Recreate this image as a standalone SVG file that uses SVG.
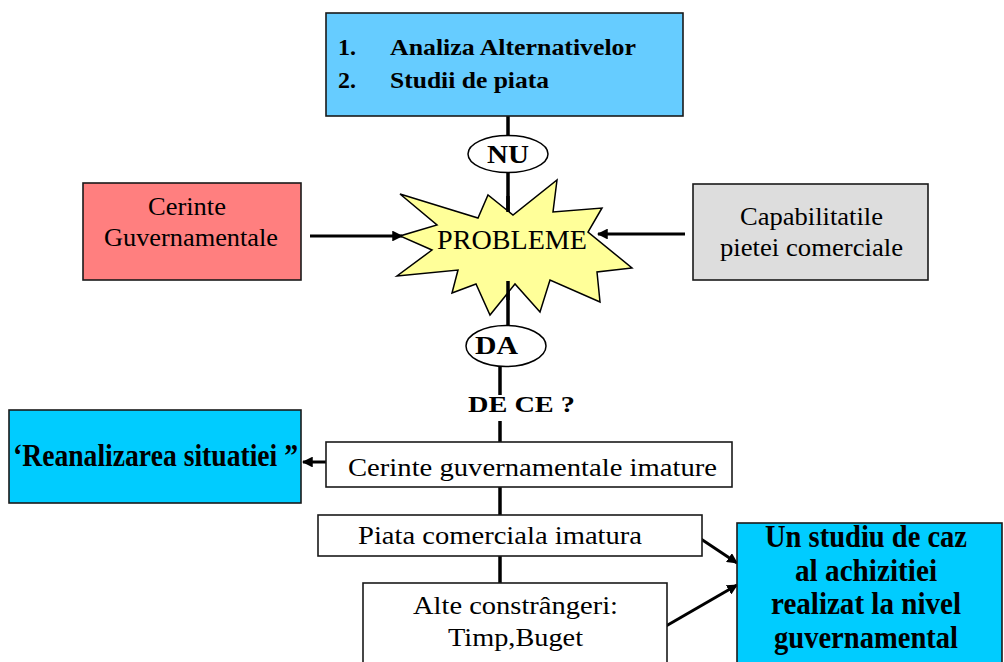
<svg xmlns="http://www.w3.org/2000/svg" width="1004" height="662" viewBox="0 0 1004 662">
  <style>
    text { font-family: "Liberation Serif", "Times New Roman", serif; fill: #000; }
    .box { stroke: #1a1a1a; stroke-width: 1.6; }
    .plain { fill: #ffffff; }
    .lbl { font-size: 26px; }
    .bold { font-weight: bold; }
    .wire { stroke: #000; stroke-width: 3.5; fill: none; }
    .arrow { stroke: #000; stroke-width: 3; fill: none; marker-end: url(#head); }
  </style>
  <defs>
    <marker id="head" viewBox="0 0 10 10" refX="9" refY="5" markerWidth="3.6" markerHeight="3.6" orient="auto" markerUnits="strokeWidth">
      <path d="M0,0 L10,5 L0,10 Z" fill="#000"/>
    </marker>
  </defs>

  <rect width="1004" height="662" fill="#ffffff"/>

  <!-- connectors -->
  <g id="connectors">
    <line class="wire" x1="508" y1="116" x2="508" y2="137"/>
    <line class="wire" x1="508" y1="172" x2="508" y2="214"/>
    <line class="wire" x1="508" y1="276" x2="508" y2="326"/>
    <line class="wire" x1="500" y1="366" x2="500" y2="395"/>
    <line class="wire" x1="500" y1="421" x2="500" y2="443"/>
    <line class="wire" x1="500" y1="486" x2="500" y2="515"/>
    <line class="wire" x1="500" y1="556" x2="500" y2="583"/>
    <line class="arrow" x1="310" y1="236" x2="402" y2="236"/>
    <line class="arrow" x1="685" y1="234" x2="598" y2="234"/>
    <line class="arrow" x1="333" y1="462" x2="303" y2="462"/>
    <line class="arrow" x1="701" y1="539" x2="737" y2="563"/>
    <line class="arrow" x1="666" y1="626" x2="737" y2="585"/>
  </g>

  <g id="analiza">
    <rect class="box" x="326" y="13" width="357" height="103" fill="#66ccff"/>
    <text class="bold" x="338" y="55" font-size="24">1.</text>
    <text class="bold" x="390" y="55" font-size="24" textLength="246" lengthAdjust="spacingAndGlyphs">Analiza Alternativelor</text>
    <text class="bold" x="338" y="88" font-size="24">2.</text>
    <text class="bold" x="390" y="88" font-size="24" textLength="159" lengthAdjust="spacingAndGlyphs">Studii de piata</text>
  </g>

  <g id="nu">
    <ellipse cx="508" cy="154" rx="40" ry="18.5" fill="#ffffff" stroke="#000" stroke-width="1.5"/>
    <text class="bold" x="508" y="163" font-size="25" text-anchor="middle" textLength="42" lengthAdjust="spacingAndGlyphs">NU</text>
  </g>

  <g id="cerinte">
    <rect class="box" x="83" y="183" width="218" height="97" fill="#ff7f7f"/>
    <text class="lbl" x="148" y="215" textLength="78" lengthAdjust="spacingAndGlyphs">Cerinte</text>
    <text class="lbl" x="104" y="246" textLength="174" lengthAdjust="spacingAndGlyphs">Guvernamentale</text>
  </g>

  <g id="capabilitatile">
    <rect class="box" x="693" y="184" width="235" height="96" fill="#dddddd"/>
    <text class="lbl" x="740" y="225" font-size="25" textLength="143" lengthAdjust="spacingAndGlyphs">Capabilitatile</text>
    <text class="lbl" x="720" y="256" font-size="25" textLength="183" lengthAdjust="spacingAndGlyphs">pietei comerciale</text>
  </g>

  <g id="probleme">
    <polygon points="400,194 478,218 488,195 513,215 557,180 553,212 602,208 588,232 632,268 597,272 600,302 550,280 540,312 515,284 490,315 476,284 452,293 458,270 397,276 432,250 400,236 437,225" fill="#ffff99" stroke="#000" stroke-width="1.5" stroke-linejoin="miter"/>
    <line class="wire" x1="508" y1="196" x2="508" y2="212"/>
    <line class="wire" x1="508" y1="281" x2="508" y2="300"/>
    <text x="437" y="249" font-size="27" textLength="150" lengthAdjust="spacingAndGlyphs">PROBLEME</text>
  </g>

  <g id="da">
    <ellipse cx="506" cy="346" rx="40" ry="20.5" fill="#ffffff" stroke="#000" stroke-width="1.5"/>
    <text class="bold" x="475" y="354" font-size="26" textLength="43" lengthAdjust="spacingAndGlyphs">DA</text>
  </g>

  <g id="de-ce">
    <text class="bold" x="468" y="412" font-size="24" textLength="107" lengthAdjust="spacingAndGlyphs">DE CE ?</text>
  </g>

  <g id="reanalizarea">
    <rect class="box" x="9" y="410" width="292" height="93" fill="#00ccff"/>
    <text class="bold" x="13" y="466" font-size="32" textLength="285" lengthAdjust="spacingAndGlyphs">‘Reanalizarea situatiei ”</text>
  </g>

  <g id="cerinte-imature">
    <rect class="box plain" x="326" y="442" width="406" height="45"/>
    <text class="lbl" x="348" y="476" font-size="27" textLength="369" lengthAdjust="spacingAndGlyphs">Cerinte guvernamentale imature</text>
  </g>

  <g id="piata-imatura">
    <rect class="box plain" x="318" y="515" width="384" height="41"/>
    <text class="lbl" x="358" y="544" textLength="284" lengthAdjust="spacingAndGlyphs">Piata comerciala imatura</text>
  </g>

  <g id="alte-constrangeri">
    <rect class="box plain" x="363" y="583" width="304" height="85"/>
    <text class="lbl" x="413" y="614" textLength="205" lengthAdjust="spacingAndGlyphs">Alte constrângeri:</text>
    <text class="lbl" x="448" y="646" textLength="135" lengthAdjust="spacingAndGlyphs">Timp,Buget</text>
  </g>

  <g id="studiu-de-caz">
    <rect class="box" x="737" y="523" width="265" height="145" fill="#00ccff"/>
    <text class="bold" x="866" y="547" font-size="31" text-anchor="middle" textLength="202" lengthAdjust="spacingAndGlyphs">Un studiu de caz</text>
    <text class="bold" x="866" y="581" font-size="31" text-anchor="middle" textLength="142" lengthAdjust="spacingAndGlyphs">al achizitiei</text>
    <text class="bold" x="866" y="614" font-size="31" text-anchor="middle" textLength="190" lengthAdjust="spacingAndGlyphs">realizat la nivel</text>
    <text class="bold" x="866" y="648" font-size="31" text-anchor="middle" textLength="184" lengthAdjust="spacingAndGlyphs">guvernamental</text>
  </g>
</svg>
